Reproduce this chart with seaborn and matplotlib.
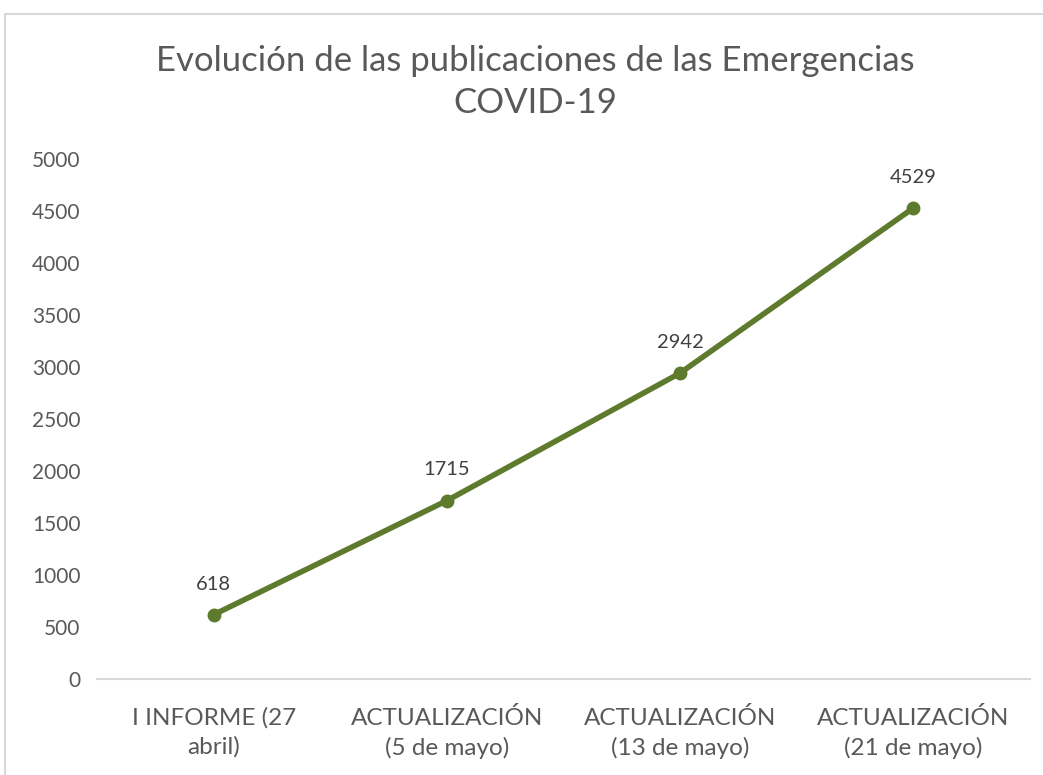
import numpy as np
import matplotlib.pyplot as plt
import seaborn as sns
import pandas as pd
from matplotlib.patches import Rectangle

sns.set_style('white')
plt.rcParams['font.family'] = ['Lato', 'DejaVu Sans']

#### DATA ####
etapas = ['I INFORME (27\nabril)', 'ACTUALIZACIÓN\n(5 de mayo)',
          'ACTUALIZACIÓN\n(13 de mayo)', 'ACTUALIZACIÓN\n(21 de mayo)']
publicaciones = [618, 1715, 2942, 4529]
y_ticks = list(range(0, 5001, 500))

df = pd.DataFrame({'etapa': etapas, 'publicaciones': publicaciones})
df['pos'] = range(len(df))

verde = '#5E7A2C'
gris = '#595959'

#### PLOT ####
fig = plt.figure(figsize=(10.43, 7.75), dpi=100)
ax = fig.add_axes([97/1043, 1 - 679/775, (1030 - 97)/1043, (679 - 159)/775])

# chart border
fig.patches.append(Rectangle((5/1043, -0.05), 1.1, 1 - 14/775 + 0.05,
                             transform=fig.transFigure, fill=False,
                             edgecolor='#D9D9D9', linewidth=1.5))

sns.lineplot(data=df, x='pos', y='publicaciones', ax=ax, color=verde,
             linewidth=4, marker='o', markersize=10, markeredgewidth=0)

for x, y in zip(df['pos'], df['publicaciones']):
    ax.annotate(str(y), (x, y), xytext=(0, 16), textcoords='offset points',
                ha='center', va='bottom', fontsize=14.5, color='#404040')

ax.set_xlim(-0.5, len(df) - 0.5)
ax.set_ylim(0, 5000)
ax.set_yticks(y_ticks)
ax.set_xticks(df['pos'])
ax.set_xticklabels(etapas, fontsize=17.5, color=gris, linespacing=1.45)
ax.tick_params(axis='y', labelsize=15, labelcolor=gris, length=0, pad=12)
ax.tick_params(axis='x', length=0, pad=20)
ax.set_xlabel('')
ax.set_ylabel('')
for s in ['top', 'right', 'left']:
    ax.spines[s].set_visible(False)
ax.spines['bottom'].set_color('#D9D9D9')
ax.spines['bottom'].set_linewidth(1.5)

fig.text(535/1043, 1 - 82/775, 'Evolución de las publicaciones de las Emergencias\nCOVID-19',
         ha='center', va='center', fontsize=25, color=gris, linespacing=1.42)

fig.savefig('out.png', dpi=100)
